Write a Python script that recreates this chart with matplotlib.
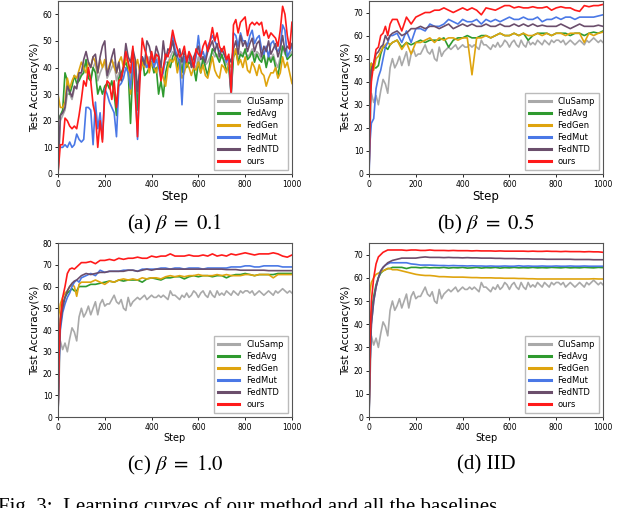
import numpy as np
import matplotlib
matplotlib.use("Agg")
import matplotlib.pyplot as plt

plt.rcParams['mathtext.fontset'] = 'stix'

names = ['CluSamp', 'FedAvg', 'FedGen', 'FedMut', 'FedNTD', 'ours']
colors = ['#a9a9a9', '#2e9a2e', '#dfa40e', '#4a78e6', '#6b4e6c', '#ff1a1a']

# steps every 10 rounds (panel a, and the shared CluSamp curve)
steps_a = list(range(0, 1001, 10))
# coarser grid for the smoother panels b, c, d
steps_b = [0, 5, 10, 20, 30, 40, 50, 60, 70, 80, 90, 100] + list(range(120, 1001, 20))

# ---- (a) beta = 0.1 ----
a_clusamp = [0, 20, 22, 24, 30, 30, 28, 32, 33, 36,
             38, 40, 42, 38, 36, 40, 42, 35, 38, 40,
             42, 36, 38, 40, 42, 35, 38, 36, 40, 44,
             42, 35, 42, 40, 28, 38, 42, 40, 42, 44,
             42, 40, 44, 42, 38, 40, 42, 42, 44, 46,
             45, 42, 44, 40, 43, 41, 43, 42, 41, 40,
             44, 40, 42, 41, 42, 44, 46, 44, 45, 43,
             44, 43, 41, 42, 31, 45, 47, 43, 46, 45,
             46, 44, 45, 47, 44, 46, 45, 43, 44, 41,
             45, 43, 45, 42, 40, 44, 48, 45, 44, 45,
             46]
a_fedavg = [20, 22, 24, 38, 35, 30, 33, 37, 34, 35,
            37, 38, 43, 36, 35, 40, 38, 30, 33, 30,
            33, 34, 32, 35, 30, 22, 36, 38, 40, 42,
            39, 19, 40, 42, 24, 38, 44, 37, 38, 40,
            42, 38, 40, 30, 35, 29, 38, 42, 40, 44,
            46, 40, 43, 38, 44, 40, 42, 41, 40, 35,
            42, 38, 44, 40, 37, 42, 47, 46, 44, 42,
            45, 42, 39, 40, 30, 44, 46, 42, 45, 44,
            47, 43, 44, 46, 42, 45, 43, 42, 45, 40,
            44, 42, 44, 40, 37, 42, 48, 46, 43, 44,
            45]
a_fedgen = [30, 25, 25, 27, 36, 32, 35, 37, 36, 39,
            42, 40, 38, 42, 40, 44, 42, 38, 43, 40,
            43, 38, 41, 43, 40, 38, 42, 44, 40, 43,
            42, 30, 44, 40, 43, 38, 42, 40, 44, 38,
            42, 40, 38, 42, 40, 36, 33, 40, 43, 42,
            44, 38, 42, 36, 38, 42, 40, 37, 40, 39,
            42, 38, 41, 37, 36, 40, 44, 39, 37, 36,
            41, 40, 38, 42, 40, 44, 47, 41, 43, 40,
            44, 39, 38, 42, 40, 37, 41, 38, 37, 33,
            36, 38, 38, 40, 36, 38, 44, 40, 42, 38,
            34]
a_fedmut = [10, 10, 10, 11, 10, 12, 10, 11, 15, 13,
            12, 13, 25, 25, 24, 11, 27, 17, 23, 13,
            32, 30, 27, 25, 23, 14, 33, 34, 36, 40,
            38, 32, 42, 34, 13, 40, 44, 42, 40, 42,
            44, 40, 43, 40, 36, 38, 44, 45, 46, 52,
            47, 44, 42, 26, 44, 42, 45, 43, 40, 44,
            52, 44, 46, 43, 48, 50, 52, 50, 48, 46,
            47, 45, 42, 44, 29, 53, 52, 48, 53, 50,
            50, 48, 52, 54, 49, 51, 52, 47, 45, 48,
            44, 49, 50, 47, 46, 48, 56, 54, 44, 46,
            48]
a_fedntd = [0, 22, 23, 25, 33, 31, 29, 33, 32, 38,
            38, 43, 46, 42, 40, 44, 45, 38, 44, 48,
            50, 37, 40, 44, 47, 38, 42, 35, 40, 49,
            44, 42, 47, 43, 31, 40, 44, 41, 50, 48,
            44, 42, 48, 45, 40, 50, 43, 47, 46, 50,
            45, 44, 47, 42, 46, 43, 45, 40, 44, 46,
            48, 43, 44, 42, 46, 48, 50, 46, 49, 44,
            47, 45, 43, 44, 42, 47, 50, 45, 52, 48,
            50, 46, 49, 51, 46, 49, 50, 44, 48, 46,
            50, 45, 47, 49, 44, 47, 52, 46, 48, 47,
            49]
a_ours = [0, 11, 11, 21, 20, 18, 17, 18, 17, 22,
          28, 35, 33, 40, 35, 26, 22, 10, 20, 12,
          30, 35, 34, 28, 35, 25, 35, 36, 40, 46,
          42, 38, 48, 30, 14, 35, 51, 47, 44, 40,
          46, 42, 45, 44, 35, 40, 45, 44, 48, 54,
          50, 47, 44, 45, 48, 42, 46, 44, 40, 47,
          45, 44, 48, 50, 46, 50, 55, 50, 53, 48,
          46, 48, 43, 45, 30, 56, 58, 53, 57, 58,
          59, 52, 56, 57, 56, 57, 56, 57, 52, 54,
          51, 53, 52, 51, 48, 54, 63, 60, 52, 47,
          57]

# CluSamp curve, the same in panels b, c, d (steps_a)
clusamp = [3, 35, 31, 34, 30, 36, 41, 39, 35, 46,
           50, 46, 48, 51, 47, 50, 53, 47, 52, 54,
           51, 52, 52, 54, 56, 53, 52, 54, 50, 49,
           55, 51, 53, 54, 55, 54, 55, 56, 54, 55,
           56, 55, 55, 56, 55, 56, 55, 54, 58, 56,
           56, 55, 54, 56, 55, 57, 55, 56, 58, 57,
           55, 57, 58, 56, 55, 58, 56, 55, 58, 56,
           57, 56, 58, 57, 56, 58, 57, 56, 58, 57,
           58, 58, 57, 58, 56, 57, 58, 57, 56, 57,
           58, 57, 56, 58, 57, 58, 59, 58, 57, 58,
           57]

# ---- (b) beta = 0.5 (steps_b) ----
b_fedavg = [0, 40, 48, 46, 46, 47, 52, 55, 55, 54, 56, 57,
            58, 55, 57, 56, 57, 58, 57, 58, 58,
            58, 59, 55, 58, 59, 59, 60, 59, 59,
            60, 60, 59, 60, 61, 60, 60, 61, 60,
            61, 58, 60, 61, 61, 61, 60, 61, 61,
            61, 60, 61, 61, 60, 61, 61.5, 61, 62]
b_fedgen = [42, 47, 48, 45, 50, 51, 53, 55, 56, 57, 56, 57,
            58, 54, 57, 52, 57, 57, 58, 59, 57,
            59, 58, 59, 59, 58, 59, 59, 43, 59,
            59, 60, 59, 60, 61, 60, 60, 61, 60,
            61, 60, 60, 61, 60, 61, 60, 61, 61,
            60, 61, 61, 61, 57, 61, 60, 61, 61.5]
b_fedmut = [0, 15, 22, 24, 37, 42, 45, 50, 55, 57, 60, 60,
            61, 57, 62, 57, 63, 63, 62, 65, 64,
            64, 65, 67, 66, 65, 67, 66, 66, 67,
            65, 67, 66, 67, 66, 67, 68, 67, 67,
            68, 67, 67, 68, 66, 67, 67, 68, 67,
            68, 68, 67, 68, 68, 68, 68, 68.5, 69]
b_fedntd = [0, 30, 45, 48, 52, 53, 55, 56, 60, 58, 60, 61,
            62, 60, 61, 63, 63, 64, 63, 64, 64,
            63, 64, 65, 63, 64, 65, 64, 65, 64,
            64, 65, 64, 64, 65, 64, 64, 65, 64,
            65, 64, 65, 64, 64.5, 64, 64, 64, 65,
            64, 63, 64, 65, 64, 64, 64, 64.5, 64]
b_ours = [0, 30, 40, 48, 54, 55, 60, 61, 64, 60, 65, 67,
          67, 62, 68, 65, 68, 69, 70, 70, 71,
          71, 72, 71, 70, 71, 72, 71, 72, 71,
          69, 72, 71.5, 71, 72, 73, 73, 72, 72.5,
          72, 72, 72.5, 72, 72, 72.5, 71, 72, 72.5,
          72, 72, 71, 70.5, 73, 72.5, 73, 73, 73.5]

# ---- (c) beta = 1.0 (steps_b) ----
c_fedavg = [0, 30, 45, 52, 55, 57, 58, 59, 58, 58, 60, 60,
            60, 61, 61, 61.5, 62, 62.5, 62, 63, 62.5,
            63, 63, 63, 62, 63.5, 64, 63.5, 63, 64,
            64, 64.5, 64.5, 63.5, 64.5, 65, 64.5, 65, 65,
            64.5, 65, 65, 64, 65, 65.5, 65.5, 66, 65.5,
            65, 65.5, 65.5, 65.5, 65.5, 66, 66, 66, 66]
c_fedgen = [45, 48, 52, 55, 57, 58, 60, 61, 60, 55.5, 61, 62,
            62, 62, 63, 62, 61, 62.5, 62, 63, 63.5,
            63, 63.5, 63, 64, 63.5, 64, 64, 63.5, 64.5,
            65, 64.5, 65, 64.5, 65, 65, 65.5, 65, 65,
            65, 65.5, 65, 65.5, 65, 65, 65, 65.5, 65.5,
            65, 65.5, 65.5, 65.5, 64, 65.5, 65.5, 65.5, 65.5]
c_fedmut = [0, 25, 40, 48, 52, 55, 57, 60, 62, 63, 62, 64,
            65, 66, 65, 67.5, 66.5, 67, 67, 67, 67.5,
            67.5, 67.5, 67, 68, 68, 68, 68, 68.5, 68.5,
            68, 68.5, 68.5, 68, 68.5, 68.5, 68.5, 68, 68.5,
            68.5, 68.5, 68.5, 68.5, 69, 69, 69, 69.5, 69.5,
            69, 69, 69.5, 69.5, 69.5, 69.5, 69, 69, 69]
c_fedntd = [0, 28, 42, 50, 55, 58, 60, 61.5, 62.5, 63, 64, 65,
            66, 65.5, 66, 66.5, 66.5, 67, 67, 67, 67,
            67.5, 67.5, 67, 67.5, 68, 67.5, 68, 68, 68,
            68, 68, 68, 68, 68, 68, 68, 68, 68,
            68, 68, 68, 67.8, 67.8, 67.8, 67.5, 67.5, 67.5,
            67.5, 67.5, 67.5, 67.3, 67.3, 67.3, 67.3, 67.3, 67.3]
c_ours = [0, 30, 45, 55, 60, 66, 68, 68.5, 68, 69, 70, 71,
          71, 71.5, 70.5, 72, 72, 72.5, 72, 73, 72.5,
          73, 73, 73.5, 73, 73, 74, 73.5, 74, 74,
          75, 74, 74, 74, 74.5, 74, 74, 74.5, 74,
          75, 74, 74.5, 74, 75, 74.5, 75, 75.5, 75,
          74.5, 75, 75, 75, 75.5, 75, 74, 73.5, 74.5]

# ---- (d) IID (steps_b) ----
d_fedavg = [0, 30, 45, 52, 57, 60, 62, 63, 63.5, 64, 64, 64.5,
            64.5, 64.5, 64, 64.5, 64.5, 64.3, 64.5, 64.3, 64.4,
            64.3, 64.5, 64.2, 64.4, 64.3, 64.5, 64.2, 64.3, 64.5,
            64.2, 64.4, 64.3, 64.5, 64.2, 64.4, 64.3, 64.5, 64.3,
            64.4, 64.3, 64.5, 64.3, 64.4, 64.3, 64.5, 64.4, 64.3,
            64.5, 64.3, 64.4, 64.3, 64.5, 64.4, 64.3, 64.5, 64.4]
d_fedgen = [50, 55, 58, 60, 61.5, 62, 62.5, 63, 63.5, 64, 64, 63.5,
            63.5, 63, 62.5, 62, 61.5, 61.2, 61, 61, 60.8,
            60.5, 60.5, 60.4, 60.3, 60.3, 60.3, 60.2, 60.1, 60.1,
            60, 60, 60, 59.9, 59.9, 59.8, 59.8, 59.8, 59.7,
            59.7, 59.6, 59.6, 59.5, 59.5, 59.5, 59.5, 59.5, 59.5,
            59.5, 59.5, 59.5, 59.5, 59.5, 59.5, 59.6, 59.5, 59.5]
d_fedmut = [0, 25, 40, 50, 56, 60, 63, 64.5, 65.5, 66, 66.5, 66.5,
            66.5, 66.5, 66.5, 66, 65.8, 65.5, 65.5, 65.5, 65.4,
            65.3, 65.3, 65.2, 65.3, 65.2, 65.2, 65.1, 65.2, 65.1,
            65.1, 65, 65.1, 65, 65, 65.1, 65, 65, 65.2,
            65, 65.1, 65, 65, 65.1, 65, 65, 65.1, 65,
            65, 65.1, 65, 65, 65.1, 65, 65, 65, 65]
d_fedntd = [0, 25, 40, 50, 56, 60, 63, 64.5, 65.5, 66.5, 67, 67.5,
            68, 68.5, 68.5, 68.5, 68.5, 68.8, 69, 68.8, 68.8,
            68.8, 68.7, 68.8, 68.7, 68.7, 68.6, 68.7, 68.6, 68.6,
            68.5, 68.5, 68.5, 68.4, 68.4, 68.3, 68.3, 68.3, 68.2,
            68.2, 68.2, 68.1, 68.1, 68.1, 68, 68, 68, 68,
            68, 68, 67.9, 67.9, 67.9, 67.9, 67.8, 67.8, 67.8]
d_ours = [0, 35, 50, 60, 66, 69, 70, 71, 71.5, 72, 72, 72,
          72, 72, 71.8, 72, 72, 71.8, 71.8, 72, 71.8,
          71.8, 71.8, 71.7, 71.8, 71.7, 71.7, 71.7, 71.6, 71.7,
          71.6, 71.6, 71.6, 71.5, 71.6, 71.5, 71.5, 71.5, 71.5,
          71.5, 71.4, 71.5, 71.4, 71.4, 71.5, 71.4, 71.4, 71.3,
          71.4, 71.3, 71.3, 71.3, 71.2, 71.3, 71.2, 71.2, 71.0]

panels = [
    ([a_clusamp, a_fedavg, a_fedgen, a_fedmut, a_fedntd, a_ours], [steps_a] * 6, 65, r'(a) $\beta\ =\ 0.1$', 8.5),
    ([clusamp, b_fedavg, b_fedgen, b_fedmut, b_fedntd, b_ours], [steps_a] + [steps_b] * 5, 75, r'(b) $\beta\ =\ 0.5$', 8.5),
    ([clusamp, c_fedavg, c_fedgen, c_fedmut, c_fedntd, c_ours], [steps_a] + [steps_b] * 5, 80, r'(c) $\beta\ =\ 1.0$', 7),
    ([clusamp, d_fedavg, d_fedgen, d_fedmut, d_fedntd, d_ours], [steps_a] + [steps_b] * 5, 75, '(d) IID', 7),
]

# axes boxes in figure fractions (left, bottom, width, height)
boxes = [
    (0.0906, 0.6575, 0.3656, 0.3406),
    (0.5766, 0.6575, 0.3656, 0.3406),
    (0.0906, 0.1791, 0.3656, 0.3425),
    (0.5766, 0.1791, 0.3656, 0.3425),
]
caption_y = [1 - 224 / 508, 1 - 224 / 508, 1 - 465 / 508, 1 - 465 / 508]

fig = plt.figure(figsize=(6.4, 5.08), dpi=100)

for (series, xs, ytop, cap, xlab_size), box, cy in zip(panels, boxes, caption_y):
    ax = fig.add_axes(box)
    for y, x, name, col in zip(series, xs, names, colors):
        ax.plot(x, y, color=col, lw=1.2, label=name)
    ax.set_xlim(0, 1000)
    ax.set_ylim(0, ytop)
    ax.set_xticks([0, 200, 400, 600, 800, 1000])
    ax.tick_params(labelsize=5.5, length=2.5, width=0.6, pad=1.5)
    ax.set_xlabel('Step', fontsize=xlab_size, labelpad=1)
    ax.set_ylabel('Test Accuracy(%)', fontsize=7.5, labelpad=2)
    for s in ax.spines.values():
        s.set_color('#555555')
        s.set_linewidth(0.8)
    leg = ax.legend(loc='lower right', fontsize=6, handlelength=2.6,
                    labelspacing=0.35, borderpad=0.5, fancybox=False,
                    framealpha=1, edgecolor='#bbbbbb')
    for h in leg.get_lines():
        h.set_linewidth(2.2)
    fig.text(box[0] + box[2] / 2, cy, cap, ha='center', va='center',
             fontsize=15, family='Liberation Serif')

# figure caption, cut by the lower edge as in the source page crop
fig.text(-0.003, 1 - 497 / 508, 'Fig. 3:  Learning curves of our method and all the baselines',
         ha='left', va='top', fontsize=15, family='Liberation Serif')

fig.savefig('out.png', dpi=100)
